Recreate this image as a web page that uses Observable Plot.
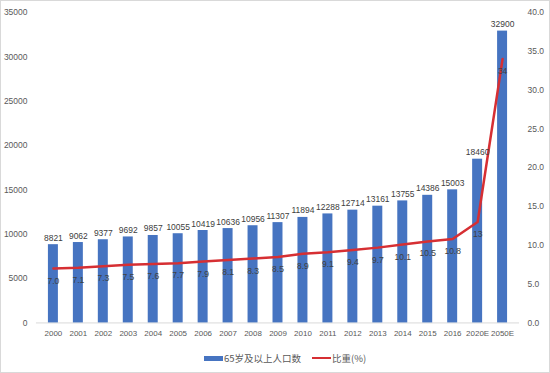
<!DOCTYPE html>
<html>
<head>
<meta charset="utf-8">
<script src="https://cdn.jsdelivr.net/npm/d3@7"></script>
<script src="https://cdn.jsdelivr.net/npm/@observablehq/plot@0.6"></script>
<style>
  html, body { margin: 0; padding: 0; background: #fff; }
  #wrap { position: relative; width: 550px; height: 373px; box-sizing: border-box; border: 1px solid #d9d9d9; overflow: hidden; }
  #chart { position: absolute; left: -1px; top: -1px; }
  #legend { position: absolute; left: 203px; top: 350px; display: flex; align-items: center;
            font-family: "Noto Sans CJK SC", "Liberation Sans", sans-serif; font-size: 9.5px; color: #595959; }
  .item { display: flex; align-items: center; }
  .sw-bar { width: 19px; height: 5px; background: #4674c1; margin-right: 1px; }
  .sw-line { width: 19px; height: 2px; background: #d62f33; margin-right: 1px; }
</style>
</head>
<body>
<div id="wrap">
  <div id="chart"></div>
  <div id="legend">
    <div class="item"><span class="sw-bar"></span><span>65岁及以上人口数</span></div>
    <div class="item" style="margin-left:11px"><span class="sw-line"></span><span>比重(%)</span></div>
  </div>
</div>
<script>
const years = ["2000","2001","2002","2003","2004","2005","2006","2007","2008","2009","2010","2011","2012","2013","2014","2015","2016","2020E","2050E"];
const population = [8821,9062,9377,9692,9857,10055,10419,10636,10956,11307,11894,12288,12714,13161,13755,14386,15003,18460,32900];
const ratio = [7.0,7.1,7.3,7.5,7.6,7.7,7.9,8.1,8.3,8.5,8.9,9.1,9.4,9.7,10.1,10.5,10.8,13,34];
const ratioLabels = ["7.0","7.1","7.3","7.5","7.6","7.7","7.9","8.1","8.3","8.5","8.9","9.1","9.4","9.7","10.1","10.5","10.8","13","34"];
const leftTicks = [0,5000,10000,15000,20000,25000,30000,35000];
const rightTicks = [0,5,10,15,20,25,30,35,40];
const leftMax = 35000;
const rightMax = 40;

const k = leftMax / rightMax;
const data = years.map((y, i) => ({year: y, pop: population[i], ratio: ratio[i], rlabel: ratioLabels[i]}));

const font = "'Liberation Sans', Arial, sans-serif";

const chart = Plot.plot({
  width: 550,
  height: 342,
  marginTop: 12,
  marginBottom: 19,
  marginLeft: 36,
  marginRight: 30,
  style: {fontFamily: font, fontSize: "8.5px", color: "#595959", background: "transparent"},
  x: {domain: years, paddingInner: 0.6, paddingOuter: 0.3, label: null},
  y: {domain: [0, leftMax], label: null},
  marks: [
    Plot.ruleY([0], {stroke: "#d9d9d9"}),
    Plot.barY(data, {x: "year", y: "pop", fill: "#4674c1"}),
    Plot.lineY(data, {x: "year", y: d => d.ratio * k, stroke: "#d62f33", strokeWidth: 2.5, curve: "linear", strokeLinejoin: "round"}),
    Plot.text(data, {x: "year", y: "pop", text: d => String(d.pop), lineAnchor: "bottom", dy: -4, fill: "#404040"}),
    Plot.text(data, {x: "year", y: d => d.ratio * k, text: "rlabel", lineAnchor: "top", dy: 9, fill: "#404040"}),
    Plot.axisX({tickSize: 0, tickPadding: 7, fill: "#595959", fontSize: 8}),
    Plot.axisY(leftTicks, {tickSize: 0, tickPadding: 9, tickFormat: d => String(d), fill: "#595959"}),
    Plot.axisY(rightTicks.map(r => r * k), {anchor: "right", tickSize: 0, tickPadding: 8, tickFormat: d => (d / k).toFixed(1), fill: "#595959"})
  ]
});
document.getElementById("chart").appendChild(chart);
</script>
</body>
</html>
